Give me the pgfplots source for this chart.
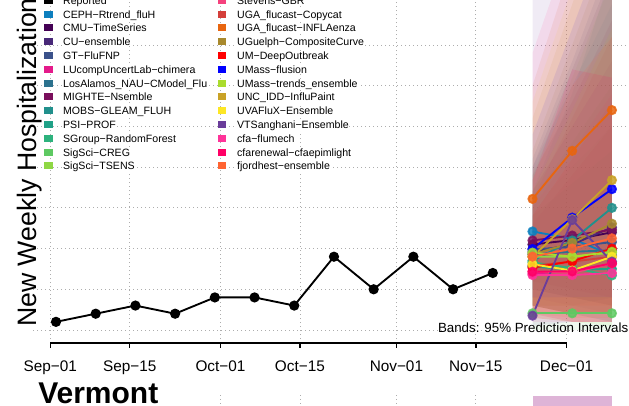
\documentclass[border=0pt]{standalone}
\usepackage{pgfplots}
\pgfplotsset{compat=1.18}
\usepackage{fontspec}
\setmainfont{Liberation Sans}
\definecolor{c01}{RGB}{13,127,190}
\definecolor{c02}{RGB}{68,1,84}
\definecolor{c03}{RGB}{72,40,120}
\definecolor{c04}{RGB}{59,82,139}
\definecolor{c05}{RGB}{228,26,138}
\definecolor{c06}{RGB}{44,114,142}
\definecolor{c07}{RGB}{122,15,92}
\definecolor{c08}{RGB}{33,144,140}
\definecolor{c09}{RGB}{31,161,135}
\definecolor{c10}{RGB}{45,178,125}
\definecolor{c11}{RGB}{94,201,98}
\definecolor{c12}{RGB}{143,215,68}
\definecolor{c13}{RGB}{245,65,125}
\definecolor{c14}{RGB}{212,63,58}
\definecolor{c15}{RGB}{232,101,15}
\definecolor{c16}{RGB}{168,137,45}
\definecolor{c17}{RGB}{255,0,0}
\definecolor{c18}{RGB}{0,0,255}
\definecolor{c19}{RGB}{170,220,45}
\definecolor{c20}{RGB}{201,162,39}
\definecolor{c21}{RGB}{253,231,37}
\definecolor{c22}{RGB}{106,61,154}
\definecolor{c23}{RGB}{255,51,153}
\definecolor{c24}{RGB}{255,0,102}
\definecolor{c25}{RGB}{255,100,50}
\definecolor{bandlow}{RGB}{222,180,215}
\tikzset{grd/.style={black!32, line width=0.6pt, dash pattern=on 0.6pt off 2.4pt}}
% band: color, lo1, lo2, lo3, up1, up2, up3
\newcommand{\band}[7]{\addplot[draw=none, fill=#1, fill opacity=0.1] coordinates {(85,#2) (92,#3) (99,#4) (99,#7) (92,#6) (85,#5)} -- cycle;}
% forecast median: color, m1, m2, m3
\newcommand{\fc}[4]{\addplot[color=#1, line width=1.4pt, mark=*, mark size=3.1pt, mark options={solid, fill=#1, opacity=0.85}] coordinates {(85,#2) (92,#3) (99,#4)};}
\newcommand{\lgs}[1]{\fontsize{7.95}{9}\selectfont #1}
\begin{document}
\begin{tikzpicture}
\begin{axis}[at={(0pt,0pt)}, anchor=south west, scale only axis,
  width=471.75pt, height=304.5pt,
  xmin=-8.871, xmax=102.01, ymin=-9.333, ymax=40.526,
  axis lines=none, ticks=none, clip=true]
% grid
\draw[grd] (axis cs:-3.05,0) -- (axis cs:110,0);
\draw[grd] (axis cs:-3.05,5) -- (axis cs:110,5);
\draw[grd] (axis cs:-3.05,10) -- (axis cs:110,10);
\draw[grd] (axis cs:-3.05,15) -- (axis cs:110,15);
\draw[grd] (axis cs:-3.05,20) -- (axis cs:110,20);
\draw[grd] (axis cs:-3.05,25) -- (axis cs:110,25);
\draw[grd] (axis cs:-3.05,30) -- (axis cs:110,30);
\draw[grd] (axis cs:-3.05,35) -- (axis cs:110,35);
\draw[grd] (axis cs:0,-1.6) -- (axis cs:0,45);
\draw[grd] (axis cs:14,-1.6) -- (axis cs:14,45);
\draw[grd] (axis cs:30,-1.6) -- (axis cs:30,45);
\draw[grd] (axis cs:44,-1.6) -- (axis cs:44,45);
\draw[grd] (axis cs:61,-1.6) -- (axis cs:61,45);
\draw[grd] (axis cs:75,-1.6) -- (axis cs:75,45);
\draw[grd] (axis cs:91,-1.6) -- (axis cs:91,45);
% next panel grid stubs
\draw[grd] (axis cs:30,-8.0) -- (axis cs:30,-10);
\draw[grd] (axis cs:44,-8.0) -- (axis cs:44,-10);
\draw[grd] (axis cs:61,-8.0) -- (axis cs:61,-10);
\draw[grd] (axis cs:75,-8.0) -- (axis cs:75,-10);
\addplot[draw=none, fill=bandlow] coordinates {(85,-8.1) (99,-8.1) (99,-10) (85,-10)} -- cycle;
% prediction bands
\band{c01}{5}{4}{3}{20}{30}{40}
\band{c02}{5}{4}{3}{17}{25}{33}
\band{c03}{4}{3}{2}{20}{32}{44}
\band{c04}{5}{4}{3}{16}{23}{30}
\band{c05}{3}{2}{2}{13}{19}{25}
\band{c06}{3}{2}{1}{21}{33}{46}
\band{c07}{6}{5}{4}{19}{28}{38}
\band{c08}{3}{3}{4}{17}{29}{44}
\band{c09}{3}{2}{2}{14}{18}{22}
\band{c10}{3}{2}{1}{15}{20}{25}
\band{c11}{0}{0}{0}{9}{14}{18}
\band{c12}{1.5}{1}{0.5}{19}{31}{43}
\band{c13}{2}{1}{1}{15}{22}{29}
\band{c14}{2}{1}{1}{16}{26}{36}
\band{c15}{3}{3}{3}{30}{45}{60}
\band{c16}{3}{2}{2}{22}{35}{48}
\band{c17}{3}{2}{2}{14}{21}{28}
\band{c18}{4}{4}{4}{24}{37}{50}
\band{c19}{3}{2}{2}{17}{27}{37}
\band{c20}{2}{2}{2}{26}{40}{54}
\band{c21}{1.5}{1}{1}{28}{42}{56}
\band{c22}{0.5}{1}{1}{45}{70}{90}
\band{c23}{1}{1}{1}{34}{48}{60}
\band{c24}{1.5}{1}{1}{18.4}{32}{31}
\band{c25}{2}{1.5}{1.5}{18.4}{30}{36}
% reported
\addplot[black, line width=1.4pt, mark=*, mark size=3.1pt, mark options={solid}] coordinates {
(1,1) (8,2) (15,3) (22,2) (29,4) (36,4) (43,3) (50,9) (57,5) (64,9) (71,5) (78,7)};
% forecast medians
\fc{c01}{12.1}{11.2}{9.2}
\fc{c02}{10.5}{11.05}{12.0}
\fc{c03}{9.6}{10.5}{12.6}
\fc{c04}{9.9}{10.2}{10.8}
\fc{c05}{6.9}{7.3}{8.1}
\fc{c06}{9.3}{9.6}{9.8}
\fc{c07}{11.0}{11.6}{12.3}
\fc{c08}{8.5}{11.0}{15.0}
\fc{c09}{7.8}{7.4}{7.5}
\fc{c10}{8.3}{7.6}{6.7}
\fc{c11}{2.05}{2.05}{2.05}
\fc{c12}{9.0}{9.0}{9.5}
\fc{c13}{7.2}{7.0}{8.2}
\fc{c14}{7.9}{8.4}{9.0}
\fc{c15}{16.1}{22.0}{27.0}
\fc{c16}{9.3}{10.7}{13.05}
\fc{c17}{7.65}{8.45}{10.0}
\fc{c18}{9.95}{13.8}{17.3}
\fc{c19}{9.5}{9.0}{9.6}
\fc{c20}{9.0}{13.6}{18.4}
\fc{c21}{8.07}{7.3}{9.0}
\fc{c22}{1.76}{13.5}{8.4}
\fc{c23}{6.75}{6.75}{7.0}
\fc{c24}{7.16}{7.2}{8.2}
\fc{c25}{9.0}{10.0}{11.26}
\end{axis}
\begin{scope}[shift={(0pt,304.5pt)}, x=0.75pt, y=-0.75pt]
\clip (0,0) rectangle (629,406);
% x axis
\draw[line width=1.1pt] (50.3,343) -- (566.6,343);
\foreach \p in {50.3,129.7,220.5,299.9,396.4,475.8,566.6} \draw[line width=1.1pt] (\p,343) -- (\p,348.5);
\begin{scope}[every node/.style={anchor=base, inner sep=0pt, font=\fontsize{11.5}{13}\selectfont}]
\node at (50.3,372) {Sep−01};
\node at (129.7,372) {Sep−15};
\node at (220.5,372) {Oct−01};
\node at (299.9,372) {Oct−15};
\node at (396.4,372) {Nov−01};
\node at (475.8,372) {Nov−15};
\node at (566.6,372) {Dec−01};
\end{scope}
\node[anchor=base east, inner sep=0pt, font=\fontsize{10}{12}\selectfont] at (628.5,332.5) {Bands: 95\% Prediction Intervals};
\node[anchor=base west, inner sep=0pt, fill=white, font=\fontsize{22.5}{26}\bfseries\selectfont] at (38,404) {Vermont};
\node[rotate=90, anchor=base west, inner sep=0pt, font=\fontsize{20}{23}\selectfont] at (37,327) {New Weekly Hospitalizations};
% legend
\foreach \i/\c/\t in {0/black/Reported,1/c01/CEPH−Rtrend\_fluH,2/c02/CMU−TimeSeries,3/c03/CU−ensemble,4/c04/GT−FluFNP,5/c05/LUcompUncertLab−chimera,6/c06/LosAlamos\_NAU−CModel\_Flu,7/c07/MIGHTE−Nsemble,8/c08/MOBS−GLEAM\_FLUH,9/c09/PSI−PROF,10/c10/SGroup−RandomForest,11/c11/SigSci−CREG,12/c12/SigSci−TSENS}{
  \fill[\c] (44,{0.3+13.8*\i-3.5}) rectangle (52.5,{0.3+13.8*\i+3.5});
  \node[anchor=base west, inner sep=0.3pt, fill=white] at (62.5,{0.3+13.8*\i+4}) {\lgs{\t}};
}
\foreach \i/\c/\t in {0/c13/Stevens−GBR,1/c14/UGA\_flucast−Copycat,2/c15/UGA\_flucast−INFLAenza,3/c16/UGuelph−CompositeCurve,4/c17/UM−DeepOutbreak,5/c18/UMass−flusion,6/c19/UMass−trends\_ensemble,7/c20/UNC\_IDD−InfluPaint,8/c21/UVAFluX−Ensemble,9/c22/VTSanghani−Ensemble,10/c23/cfa−flumech,11/c24/cfarenewal−cfaepimlight,12/c25/fjordhest−ensemble}{
  \fill[\c] (217.5,{0.3+13.8*\i-3.5}) rectangle (226,{0.3+13.8*\i+3.5});
  \node[anchor=base west, inner sep=0.3pt, fill=white] at (236.5,{0.3+13.8*\i+4}) {\lgs{\t}};
}
\end{scope}
\pgfresetboundingbox
\path[use as bounding box] (0pt,0pt) rectangle (471.75pt,304.5pt);
\end{tikzpicture}
\end{document}
